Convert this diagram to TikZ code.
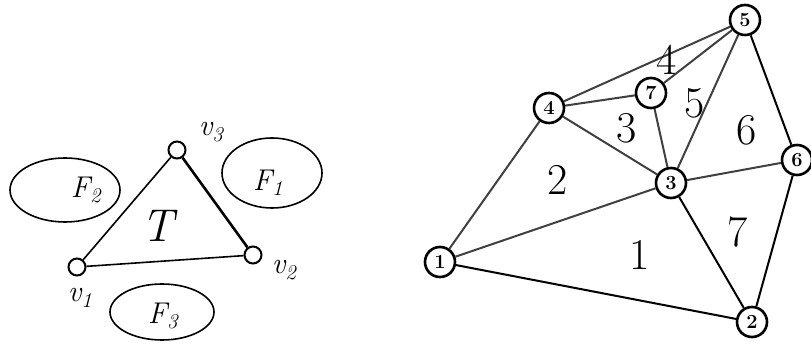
\documentclass[tikz,border=0pt]{standalone}
\usepackage{amsmath,amssymb}
\usepackage{xcolor}
\usetikzlibrary{positioning}

\begin{document}
\begin{tikzpicture}[x=1pt, y=-1pt, line width=1.6pt,
    vert/.style={draw, circle, inner sep=0pt, minimum size=17pt, line width=2pt},
    gnode/.style={draw, circle, inner sep=0pt, minimum size=30pt, line width=2.6pt, font=\fontsize{20}{20}\selectfont\bfseries},
    lbl/.style={font=\fontsize{30}{30}\selectfont\itshape},
    num/.style={font=\fontsize{44}{44}\selectfont},
    edge/.style={line width=2pt, black!75}]
    \useasboundingbox (0,0) rectangle (811,352);

    % Triangle T and its faces
    \node (v1) [vert] at (77,267) {};
    \node (v2) [vert] at (253,255) {};
    \node (v3) [vert] at (177,150) {};
    \node (v1l) [lbl] at (80,298) {v\textsubscript{1}};
    \node (v2l) [lbl] at (284,270) {v\textsubscript{2}};
    \node (v3l) [lbl] at (211,132) {v\textsubscript{3}};
    \node (t) [num, font=\fontsize{46}{46}\selectfont\itshape] at (158,226) {T};

    \draw (v1) -- (v3);
    \draw[line width=2.6pt] (v3) -- (v2);
    \draw (v1) -- (v2);

    \draw (65,190) ellipse [x radius=55, y radius=32];
    \draw (272,173) ellipse [x radius=50, y radius=35];
    \draw (162,312) ellipse [x radius=52, y radius=28];
    \node (f2) [lbl] at (86,190) {F\textsubscript{2}};
    \node (f1) [lbl] at (268,183) {F\textsubscript{1}};
    \node (f3) [lbl] at (163,316) {F\textsubscript{3}};

    % Triangulated graph
    \node (n1) [gnode] at (440,262) {1};
    \node (n2) [gnode] at (752,322) {2};
    \node (n3) [gnode] at (671,183) {3};
    \node (n4) [gnode] at (549,108) {4};
    \node (n5) [gnode] at (745,20) {5};
    \node (n6) [gnode] at (797,160) {6};
    \node (n7) [gnode] at (651,93) {7};

    \draw[edge] (n1) -- (n4);
    \draw[edge] (n1) -- (n3);
    \draw[edge, black] (n1) -- (n2);
    \draw[edge] (n4) -- (n5);
    \draw[edge] (n4) -- (n7);
    \draw[edge] (n4) -- (n3);
    \draw[edge] (n7) -- (n5);
    \draw[edge] (n7) -- (n3);
    \draw[edge] (n3) -- (n5);
    \draw[edge, black] (n5) -- (n6);
    \draw[edge] (n3) -- (n6);
    \draw[edge, black] (n3) -- (n2);
    \draw[edge, black] (n6) -- (n2);

    % Face numbers
    \node (c1) [num] at (640,255) {1};
    \node (c2) [num] at (558,180) {2};
    \node (c3) [num] at (627,128) {3};
    \node (c4) [num] at (667,60) {4};
    \node (c5) [num] at (695,103) {5};
    \node (c6) [num] at (747,130) {6};
    \node (c7) [num] at (738,232) {7};
\end{tikzpicture}
\end{document}
